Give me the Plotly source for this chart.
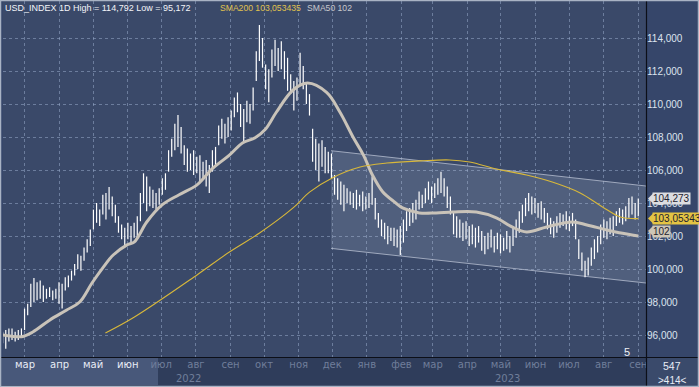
import plotly.graph_objects as go
import pandas as pd

# ---------------- data ----------------
high = [96.2, 96.3, 96.4, 96.4, 96.2, 96.3, 96.4, 97.6, 97.9, 99.1,
        99.45, 99.2, 99.3, 99.0, 98.8, 98.9, 98.7, 98.8, 99.2, 99.1,
        99.5, 99.6, 99.9, 100.3, 100.9, 100.8, 101.3, 101.8, 102.4, 103.6,
        104.0, 103.6, 104.5, 104.6, 104.97, 104.4, 103.9, 103.2, 102.7, 102.5,
        102.8, 102.6, 102.8, 103.2, 104.6, 105.8, 105.6, 105.0, 104.8, 104.6,
        104.9, 105.5, 105.8, 107.2, 107.9, 108.8, 109.33, 108.6, 107.5, 107.3,
        107.0, 107.2, 106.8, 106.9, 106.5, 106.6, 106.3, 107.2, 107.4, 108.7,
        109.1, 108.8, 109.2, 109.6, 110.4, 110.7, 110.0, 109.7, 110.2, 110.0,
        111.0, 113.2, 114.79, 114.0, 112.4, 112.1, 113.3, 113.9, 113.4, 113.8,
        113.2, 112.8, 111.8, 111.4, 111.6, 113.1, 112.3, 111.3, 110.6, 108.5,
        107.9, 107.6, 107.8, 107.4, 107.1, 107.0, 105.7, 105.5, 105.3, 105.1,
        104.9, 104.7, 104.6, 104.8, 104.5, 104.7, 104.4, 104.6, 105.6, 104.3,
        103.4, 103.0, 102.8, 102.6, 102.5, 102.5, 102.4, 102.6, 103.0, 103.5,
        103.7, 104.0, 104.2, 104.7, 104.5, 104.9, 105.3, 105.0, 105.2, 105.5,
        105.9, 105.5, 105.0, 104.4, 103.4, 103.2, 103.0, 102.8, 102.9, 102.6,
        102.7, 102.5, 102.6, 102.3, 102.0, 102.2, 102.4, 102.0, 102.2, 102.1,
        101.9, 102.3, 102.0, 102.6, 103.0, 103.5, 103.9, 104.3, 104.6, 104.4,
        104.3, 104.0, 104.1, 103.7, 103.4, 103.1, 102.9, 103.2, 103.4, 103.3,
        103.5, 103.2, 103.4, 103.0, 101.8, 101.0, 100.5, 100.7, 101.3, 101.8,
        102.0, 102.7, 103.0, 102.9, 103.1, 103.2, 103.5, 103.7, 103.6, 103.8,
        104.3, 104.4, 104.0, 104.27]

low = [95.5, 95.17, 95.6, 95.7, 95.6, 95.7, 95.9, 96.3, 97.2, 97.7,
       98.0, 98.1, 98.2, 98.0, 98.2, 98.3, 98.1, 98.2, 97.9, 97.6,
       98.7, 98.9, 99.3, 99.6, 100.0, 99.9, 100.5, 101.0, 101.4, 102.4,
       102.8, 102.6, 103.3, 103.0, 103.6, 103.2, 102.8, 102.2, 101.8, 101.4,
       101.8, 101.6, 101.9, 101.8, 102.9, 104.0, 103.5, 103.8, 103.7, 103.6,
       103.9, 104.5, 104.8, 105.9, 106.8, 107.2, 107.4, 107.0, 106.3, 105.9,
       106.0, 105.7, 105.8, 105.2, 105.4, 105.0, 104.6, 105.9, 106.3, 107.5,
       107.9, 107.6, 108.0, 108.4, 109.2, 109.5, 108.6, 107.7, 108.9, 108.8,
       109.6, 111.4, 112.6, 112.2, 110.9, 110.1, 111.6, 112.3, 112.0, 112.1,
       111.5, 110.8, 110.6, 109.6, 110.2, 111.2, 110.9, 110.0, 109.3, 106.5,
       106.0, 105.3, 106.2, 105.8, 105.8, 105.5, 104.5, 104.2, 103.9, 103.5,
       104.0, 103.9, 103.7, 103.6, 103.8, 103.5, 103.6, 103.7, 103.9, 103.0,
       102.5, 102.0, 101.8, 101.5, 101.7, 101.4, 101.3, 100.85, 101.6, 102.3,
       102.6, 102.8, 103.0, 103.6, 103.7, 104.0, 104.2, 104.0, 104.3, 104.5,
       104.6, 104.4, 103.7, 103.3, 102.1, 101.9, 101.9, 101.7, 101.8, 101.4,
       101.5, 101.3, 101.6, 101.1, 100.9, 101.2, 101.3, 101.0, 101.2, 100.95,
       101.1, 101.2, 101.0, 101.4, 101.9, 102.2, 102.8, 103.2, 103.5, 103.3,
       103.4, 103.1, 103.0, 102.8, 102.4, 102.1, 101.9, 102.2, 102.5, 102.6,
       102.4, 102.3, 102.6, 101.8, 100.6, 99.9, 99.5, 99.6, 100.2, 100.6,
       101.0, 101.5, 101.9, 101.8, 102.1, 102.0, 102.6, 102.8, 102.7, 102.9,
       103.1, 103.3, 103.0, 103.2]

sma50_dates = ["2022-02-09", "2022-02-26", "2022-03-08", "2022-03-23", "2022-04-07",
               "2022-04-19", "2022-04-30", "2022-05-10", "2022-05-19", "2022-05-31",
               "2022-06-07", "2022-06-18", "2022-07-02", "2022-07-17", "2022-08-02",
               "2022-08-16", "2022-08-31", "2022-09-12", "2022-09-23", "2022-10-02",
               "2022-10-12", "2022-10-27", "2022-11-09", "2022-11-26", "2022-12-08",
               "2022-12-20", "2022-12-29", "2023-01-06", "2023-01-15", "2023-01-26",
               "2023-02-02", "2023-02-17", "2023-03-04", "2023-03-19", "2023-04-09",
               "2023-04-27", "2023-05-11", "2023-05-24", "2023-06-11", "2023-07-04",
               "2023-07-17", "2023-08-04", "2023-08-15", "2023-09-01"]
sma50_vals = [96.0, 95.9, 96.18, 96.9, 97.5,
              98.0, 99.15, 100.1, 100.85, 101.45,
              101.65, 102.85, 103.9, 104.5, 105.1,
              106.1, 106.9, 107.65, 107.95, 108.45,
              109.5, 110.85, 111.27, 110.7, 109.5,
              107.95, 106.9, 105.7, 104.7, 104.05,
              103.7, 103.4, 103.4, 103.45, 103.45,
              103.1, 102.55, 102.25, 102.55, 102.85,
              102.67, 102.36, 102.2, 102.0]

sma200_dates = ["2022-05-12", "2022-06-07", "2022-08-02", "2022-08-31", "2022-09-27",
                "2022-10-27", "2022-11-11", "2022-12-01", "2022-12-26", "2023-01-19",
                "2023-02-18", "2023-03-16", "2023-04-03", "2023-04-27", "2023-05-24",
                "2023-06-16", "2023-07-11", "2023-07-31", "2023-08-16", "2023-09-01"]
sma200_vals = [96.12, 97.09, 99.64, 101.03, 102.18,
               103.70, 104.67, 105.52, 106.18, 106.42,
               106.55, 106.61, 106.48, 106.06, 105.70,
               105.27, 104.61, 103.76, 103.15, 103.053]

chan_dates = ["2022-11-30", "2023-09-07 22:00"]
chan_upper = [107.17, 105.03]
chan_lower = [101.25, 99.15]

month_ticks = ["2022-03-01", "2022-04-01", "2022-05-01", "2022-06-01", "2022-07-01",
               "2022-08-01", "2022-09-01", "2022-10-01", "2022-11-01", "2022-12-01",
               "2023-01-01", "2023-02-01", "2023-03-01", "2023-04-01", "2023-05-01",
               "2023-06-01", "2023-07-01", "2023-08-01", "2023-09-01"]
month_labels = ["мар", "апр", "май", "июн", "июл", "авг", "сен", "окт", "ноя", "дек",
                "янв", "фев", "мар", "апр", "май", "июн", "июл", "авг", "сен"]
y_ticks = [96, 98, 100, 102, 104, 106, 108, 110, 112, 114]

last_price = 104.273
sma200_last = 103.05343
sma50_last = 102

# ---------------- figure ----------------
W, H = 699, 387
L, R, T, B = 3, 53, 1, 30
PW, PH = W - L - R, H - T - B


def X(px):
    return (px - L) / PW


def Y(py):
    return (H - B - py) / PH


bar_dates = pd.date_range("2022-02-09", "2023-09-01", periods=len(high))
bx, by = [], []
for d, h, l in zip(bar_dates, high, low):
    bx += [d, d, None]
    by += [l, h, None]

fig = go.Figure()

# regression channel
fig.add_trace(go.Scatter(
    x=[chan_dates[0], chan_dates[1], chan_dates[1], chan_dates[0], chan_dates[0]],
    y=[chan_upper[0], chan_upper[1], chan_lower[1], chan_lower[0], chan_upper[0]],
    fill="toself", fillcolor="rgba(200,210,230,0.16)", mode="lines",
    line=dict(width=0), hoverinfo="skip", showlegend=False))
for ys in (chan_upper, chan_lower):
    fig.add_trace(go.Scatter(x=chan_dates, y=ys, mode="lines",
                             line=dict(color="rgba(190,198,215,0.75)", width=1),
                             hoverinfo="skip", showlegend=False))

fig.add_trace(go.Scatter(x=bx, y=by, mode="lines",
                         line=dict(color="#ffffff", width=1.2),
                         hoverinfo="skip", showlegend=False))
fig.add_trace(go.Scatter(x=sma50_dates, y=sma50_vals, mode="lines",
                         line=dict(color="#c9c3b9", width=3, shape="spline"),
                         hoverinfo="skip", showlegend=False))
fig.add_trace(go.Scatter(x=sma200_dates, y=sma200_vals, mode="lines",
                         line=dict(color="#d8b83a", width=1.1, shape="spline"),
                         hoverinfo="skip", showlegend=False))

bright, dim = "#e8edf6", "#6f7d9a"
ticktext = []
for i, m in enumerate(month_labels):
    c = bright if i < 4 else dim
    ticktext.append(f"<span style='color:{c}'>{m}</span>")

grid = "rgba(150,168,200,0.55)"
vmin = 114 - (357 - 38) / 16.5
vmax = vmin + PH / 16.5

fig.update_layout(
    width=W, height=H,
    margin=dict(l=L, r=R, t=T, b=B),
    paper_bgcolor="#36466a",
    plot_bgcolor="#3a4969",
    separators=", ",
    font=dict(family="Liberation Sans, Arial, sans-serif", size=10, color="#dce3ee"),
    xaxis=dict(range=["2022-02-09 08:00", "2023-09-07 22:00"], tickvals=month_ticks,
               ticktext=ticktext, showgrid=True, gridcolor=grid, griddash="3px,3px",
               gridwidth=1, zeroline=False, showline=False, ticks="",
               tickfont=dict(size=10, family="DejaVu Sans, sans-serif")),
    yaxis=dict(range=[vmin, vmax], side="right", tickvals=y_ticks, tickformat=".3f",
               showgrid=True, gridcolor=grid, griddash="3px,3px", gridwidth=1,
               zeroline=False, showline=False, ticks="",
               tickfont=dict(size=10, color="#dce3ee")),
)

shapes = [
    # bottom panel
    dict(type="rect", xref="paper", yref="paper", x0=X(0), x1=X(W), y0=Y(H), y1=Y(357),
         fillcolor="#2f3d5b", line_width=0, layer="below"),
    dict(type="rect", xref="paper", yref="paper", x0=X(0), x1=X(158), y0=Y(385), y1=Y(358),
         fillcolor="#48587a", line_width=0, layer="below"),
    dict(type="rect", xref="paper", yref="paper", x0=X(646), x1=X(W), y0=Y(H), y1=Y(357),
         fillcolor="#3a4a6b", line_width=0, layer="below"),
    # separators
    dict(type="line", xref="paper", yref="paper", x0=X(646.5), x1=X(646.5), y0=Y(H), y1=Y(0),
         line=dict(color="#0c0f18", width=1.2)),
    dict(type="line", xref="paper", yref="paper", x0=X(0), x1=X(W), y0=Y(357.5), y1=Y(357.5),
         line=dict(color="#0c0f18", width=1.2)),
    # outer frame
    dict(type="rect", xref="paper", yref="paper", x0=X(0.5), x1=X(W - 0.5), y0=Y(H - 0.5),
         y1=Y(0.5), line=dict(color="#a9b3c4", width=1.5), fillcolor="rgba(0,0,0,0)"),
]

tags = [(last_price, "104,273", "#dcdde0", 0),
        (sma200_last, "103,05343", "#e3c444", 0),
        (sma50_last, "102", "#cdc6b6", 5)]
annotations = []
for val, txt, col, ysh in tags:
    shapes.append(dict(type="path", xref="paper", yref="y", xsizemode="pixel",
                       ysizemode="pixel", xanchor=1, yanchor=val,
                       path=f"M 2,{ysh} L 7,{ysh + 5} L 7,{ysh - 5} Z",
                       fillcolor=col, line_width=0))
    annotations.append(dict(x=1, y=val, xref="paper", yref="y", xanchor="left",
                            yanchor="middle", xshift=6, yshift=ysh, text=txt,
                            showarrow=False, bgcolor=col, borderpad=0,
                            font=dict(size=10, color="#1e2230")))

annotations += [
    dict(x=X(3), y=Y(8), xref="paper", yref="paper", xanchor="left", yanchor="middle",
         text="USD_INDEX 1D High = 114,792 Low = 95,172", showarrow=False,
         font=dict(size=9, color="#f2f4f8")),
    dict(x=X(218), y=Y(8), xref="paper", yref="paper", xanchor="left", yanchor="middle",
         text="SMA200 103,053435", showarrow=False, font=dict(size=8.6, color="#e0c24e")),
    dict(x=X(305), y=Y(8), xref="paper", yref="paper", xanchor="left", yanchor="middle",
         text="SMA50 102", showarrow=False, font=dict(size=8.6, color="#c8c8cc")),
    dict(x=X(627), y=Y(352), xref="paper", yref="paper", xanchor="center", yanchor="middle",
         text="5", showarrow=False, font=dict(size=11, color="#f0f2f6")),
    dict(x="2022-07-25", y=Y(378), xref="x", yref="paper", xanchor="center",
         yanchor="middle", text="2022", showarrow=False,
         font=dict(size=10, color=dim, family="DejaVu Sans, sans-serif")),
    dict(x="2023-05-07", y=Y(378), xref="x", yref="paper", xanchor="center",
         yanchor="middle", text="2023", showarrow=False,
         font=dict(size=10, color=dim, family="DejaVu Sans, sans-serif")),
    dict(x=X(672), y=Y(366), xref="paper", yref="paper", xanchor="center", yanchor="middle",
         text="547", showarrow=False, font=dict(size=10.5, color="#e8edf6")),
    dict(x=X(672), y=Y(380), xref="paper", yref="paper", xanchor="center", yanchor="middle",
         text="&gt;414&lt;", showarrow=False, font=dict(size=10, color="#e8edf6")),
]

fig.update_layout(shapes=shapes, annotations=annotations)
fig.write_html("out.html",
               config={"displayModeBar": False},
               post_script="document.body.style.margin='0';"
                           "document.body.style.overflow='hidden';")
